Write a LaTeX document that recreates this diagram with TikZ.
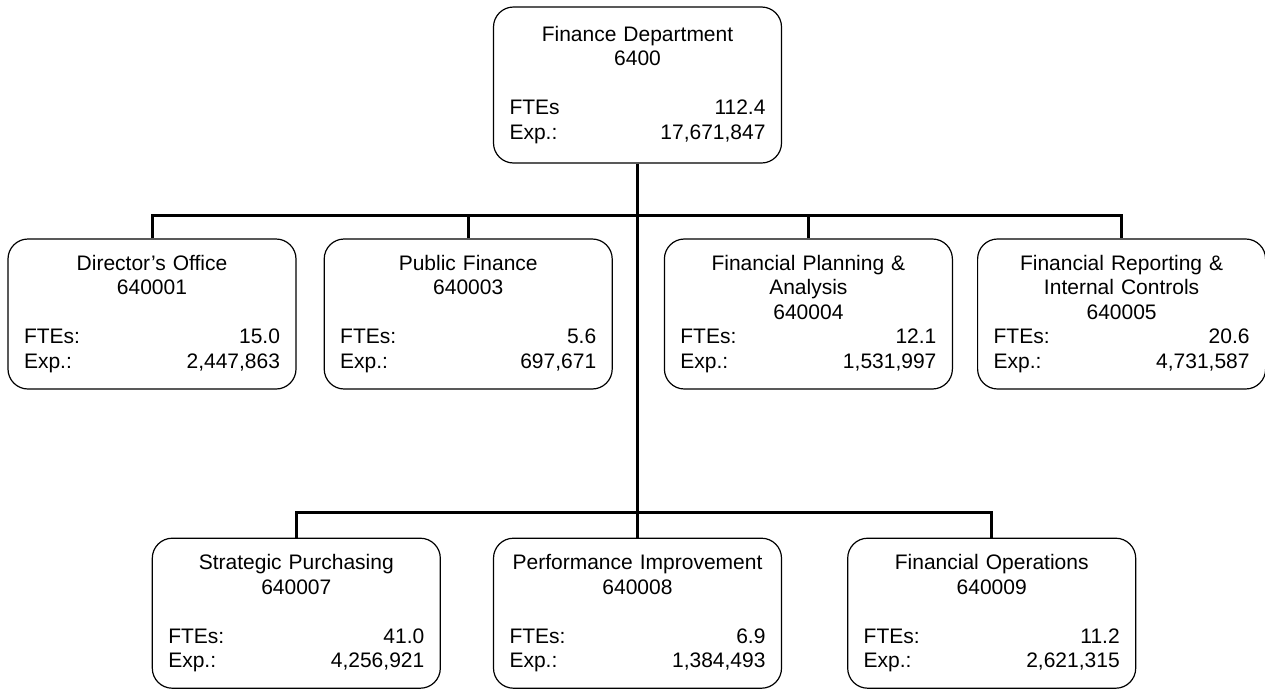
\documentclass[tikz,border=0pt]{standalone}
\usepackage{fontspec}
\setmainfont{Liberation Sans}
\usepackage{tikz}
\usetikzlibrary{positioning}

\begin{document}
\begin{tikzpicture}[
    unit/.style={draw, line width=1.2pt, rounded corners=20pt, text width=256pt,
                 inner xsep=16pt, minimum height=150pt, align=center,
                 font=\fontsize{21}{24.5}\selectfont},
    link/.style={line width=3pt, draw=black},
]
\useasboundingbox (0,0) rectangle (1265pt,-691pt);

% Department
\node[unit, minimum height=156pt] (fin) at (637.5pt,-85pt)
    {Finance Department\\6400\\[24.5pt]FTEs\hfill 112.4\\Exp.:\hfill 17,671,847};

% First row
\node[unit] (dir) at (152pt,-314pt)
    {Director’s Office\\640001\\[24.5pt]FTEs:\hfill 15.0\\Exp.:\hfill 2,447,863};
\node[unit, right=27pt of dir] (pub)
    {Public Finance\\640003\\[24.5pt]FTEs:\hfill 5.6\\Exp.:\hfill 697,671};
\node[unit, right=51pt of pub] (plan)
    {Financial Planning \&\\Analysis\\640004\\FTEs:\hfill 12.1\\Exp.:\hfill 1,531,997};
\node[unit, right=24pt of plan] (rep)
    {Financial Reporting \&\\Internal Controls\\640005\\FTEs:\hfill 20.6\\Exp.:\hfill 4,731,587};

% Second row
\node[unit, below=374pt of fin] (perf)
    {Performance Improvement\\640008\\[24.5pt]FTEs:\hfill 6.9\\Exp.:\hfill 1,384,493};
\node[unit, left=52pt of perf] (strat)
    {Strategic Purchasing\\640007\\[24.5pt]FTEs:\hfill 41.0\\Exp.:\hfill 4,256,921};
\node[unit, right=65pt of perf] (ops)
    {Financial Operations\\640009\\[24.5pt]FTEs:\hfill 11.2\\Exp.:\hfill 2,621,315};

% Bus lines
\coordinate (upper) at (0,-215pt);
\coordinate (lower) at (0,-512pt);

% Links
\draw[link] (fin.south) -- (perf.north);
\draw[link] (dir.north) -- (dir.north |- upper) -| (rep.north);
\draw[link] (pub.north) -- (pub.north |- upper);
\draw[link] (plan.north) -- (plan.north |- upper);
\draw[link] (strat.north) -- (strat.north |- lower) -| (ops.north);
\end{tikzpicture}
\end{document}
